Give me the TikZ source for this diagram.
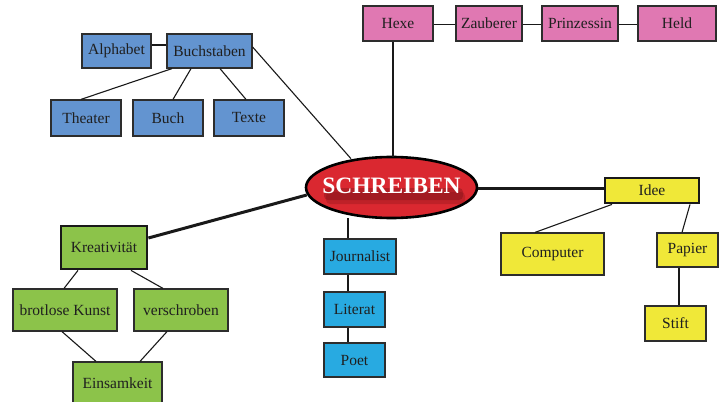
\documentclass[tikz,border=0pt]{standalone}
\usepackage{fontspec}
\setmainfont{Liberation Serif}
\usetikzlibrary{shapes.geometric,calc}
\definecolor{bbox}{RGB}{99,148,208}
\definecolor{pbox}{RGB}{224,120,178}
\definecolor{ybox}{RGB}{240,232,56}
\definecolor{gbox}{RGB}{140,195,74}
\definecolor{cbox}{RGB}{40,170,225}
\definecolor{rell}{RGB}{218,40,48}
\definecolor{edge}{RGB}{45,45,45}
\definecolor{shad}{RGB}{110,15,20}
\tikzset{
  box/.style={draw=edge, line width=1.2pt, rectangle, inner sep=0pt, text=black!88,
    font=\fontsize{15.5}{18}\selectfont},
  bluebox/.style={box, fill=bbox},
  pinkbox/.style={box, fill=pbox},
  yelbox/.style={box, fill=ybox},
  grnbox/.style={box, fill=gbox},
  cyanbox/.style={box, fill=cbox},
  thickbox/.style={line width=2.8pt, draw=black!90},
  conn/.style={draw=black!90, line width=1.1pt},
  thickconn/.style={draw=black!90, line width=3pt},
  shadowband/.style={fill=shad, draw=none, rounded corners=4pt},
}
\begin{document}
\begin{tikzpicture}[x=1pt,y=-1pt]
\useasboundingbox (0,0) rectangle (719,401);
% top-left blue group
\node[bluebox, minimum width=69pt, minimum height=34pt] (alphabet) at (116.5,51) {Alphabet};
\node[bluebox, minimum width=85pt, minimum height=34pt] (buchstaben) at (209.5,51) {Buchstaben};
\node[bluebox, minimum width=70pt, minimum height=36pt] (theater) at (86,118) {Theater};
\node[bluebox, minimum width=70pt, minimum height=36pt] (buch) at (168,118) {Buch};
\node[bluebox, minimum width=70pt, minimum height=36pt] (texte) at (249,118) {Texte};
% pink group
\node[pinkbox, minimum width=70pt, minimum height=35pt] (hexe) at (398,23.5) {Hexe};
\node[pinkbox, minimum width=66pt, minimum height=35pt] (zauberer) at (489,23.5) {Zauberer};
\node[pinkbox, minimum width=76pt, minimum height=35pt] (prinzessin) at (580,23.5) {Prinzessin};
\node[pinkbox, minimum width=78pt, minimum height=35pt] (held) at (677,23.5) {Held};
% centre
\node[ellipse, draw=black, line width=2.6pt, fill=rell, minimum width=171pt, minimum height=61pt, inner sep=0pt] (schreiben) at (391.5,187.5) {};
\fill[shadowband, opacity=0.35] (324,188) rectangle (463,200);
\fill[shadowband, opacity=0.25] (326,192) rectangle (465,204);
\node[text=white, font=\bfseries\fontsize{23.5}{26}\selectfont] (schtext) at (391.5,185.5) {SCHREIBEN};
% yellow group
\node[yelbox, thickbox, minimum width=94pt, minimum height=25pt] (idee) at (652,190.5) {Idee};
\node[yelbox, minimum width=103pt, minimum height=42pt] (computer) at (552.5,254) {Computer};
\node[yelbox, minimum width=61pt, minimum height=34pt] (papier) at (687.5,250) {Papier};
\node[yelbox, minimum width=61pt, minimum height=35pt] (stift) at (675.5,323.5) {Stift};
% cyan group
\node[cyanbox, minimum width=72pt, minimum height=35pt] (journalist) at (360,256.5) {Journalist};
\node[cyanbox, minimum width=61pt, minimum height=35pt] (literat) at (354.5,309.5) {Literat};
\node[cyanbox, minimum width=61pt, minimum height=34pt] (poet) at (354.5,360) {Poet};
% green group
\node[grnbox, thickbox, minimum width=86pt, minimum height=43pt] (kreativ) at (104,247.5) {Kreativität};
\node[grnbox, minimum width=104pt, minimum height=42pt] (brotlose) at (65,310) {brotlose Kunst};
\node[grnbox, minimum width=94pt, minimum height=42pt] (verschroben) at (181,310) {verschroben};
\node[grnbox, minimum width=89pt, minimum height=42pt] (einsamkeit) at (117.5,383) {Einsamkeit};
% connectors
\draw[conn] ([yshift=6pt]alphabet.east) -- ([yshift=6pt]buchstaben.west);
\draw[conn] ([xshift=-37.5pt]buchstaben.south) -- ([xshift=-5pt]theater.north);
\draw[conn] ([xshift=-18.5pt]buchstaben.south) -- ([xshift=5pt]buch.north);
\draw[conn] ([xshift=10.5pt]buchstaben.south) -- ([xshift=-3pt]texte.north);
\draw[conn] ([yshift=4pt]buchstaben.east) -- ([xshift=-40.5pt,yshift=-3pt]schreiben.north);
\draw[conn] ([xshift=-5pt]hexe.south) -- ([xshift=-5pt,yshift=-1pt]hexe.south |- schreiben.north);
\draw[conn] ([yshift=-1pt]hexe.east) -- ([yshift=-1pt]zauberer.west);
\draw[conn] ([yshift=-1pt]zauberer.east) -- ([yshift=-1pt]prinzessin.west);
\draw[conn] ([yshift=-1pt]prinzessin.east) -- ([yshift=-1pt]held.west);
\draw[thickconn] ([yshift=-1pt]schreiben.east) -- ([yshift=-1pt]schreiben.east -| idee.west);
\draw[conn] ([xshift=-40pt]idee.south) -- ([xshift=-17.5pt]computer.north);
\draw[conn] ([xshift=38pt]idee.south) -- ([xshift=-5.5pt]papier.north);
\draw[conn] ([xshift=-8.5pt]papier.south) -- ([xshift=3.5pt]stift.north);
\draw[conn] ([xshift=-43.5pt,yshift=1pt]schreiben.south) -- ([xshift=-12pt]journalist.north);
\draw[conn] ([xshift=-12pt]journalist.south) -- ([xshift=-6.5pt]literat.north);
\draw[conn] ([xshift=-6.5pt]literat.south) -- ([xshift=-6.5pt]poet.north);
\draw[thickconn] ([yshift=9.5pt]kreativ.east) -- ([xshift=2pt,yshift=-7.5pt]schreiben.west);
\draw[conn] ([xshift=-26pt]kreativ.south) -- ([xshift=-1pt]brotlose.north);
\draw[conn] ([xshift=27pt]kreativ.south) -- ([xshift=-18pt]verschroben.north);
\draw[conn] ([xshift=-3pt]brotlose.south) -- ([xshift=-21.5pt]einsamkeit.north);
\draw[conn] ([xshift=-14pt]verschroben.south) -- ([xshift=22.5pt]einsamkeit.north);
\end{tikzpicture}
\end{document}
